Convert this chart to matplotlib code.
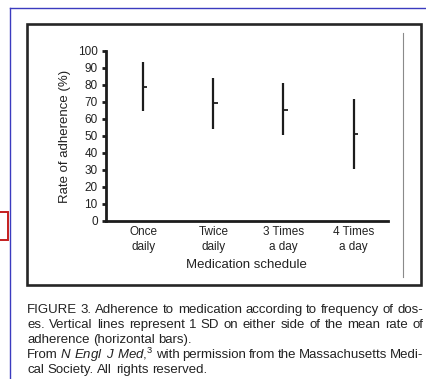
import numpy as np
import matplotlib.pyplot as plt
from matplotlib.patches import Rectangle
from matplotlib.lines import Line2D

plt.rcParams['font.family'] = ['Liberation Sans', 'DejaVu Sans']
plt.rcParams['mathtext.fontset'] = 'custom'
plt.rcParams['mathtext.rm'] = 'Liberation Sans'
plt.rcParams['mathtext.it'] = 'Liberation Sans:italic'

# data
schedules = ['Once\ndaily', 'Twice\ndaily', '3 Times\na day', '4 Times\na day']
mean_rate = [78.6, 69.2, 65.1, 50.8]
sd_upper = [93.4, 84.0, 81.2, 71.4]
sd_lower = [64.5, 53.9, 50.2, 30.6]
yticks = list(range(0, 101, 10))

caption = [
    ("FIGURE 3. Adherence to medication according to frequency of dos-", True),
    ("es. Vertical lines represent 1 SD on either side of the mean rate of", True),
    ("adherence (horizontal bars).", False),
    ("From $\\mathit{N}$ $\\mathit{Engl}$ $\\mathit{J}$ $\\mathit{Med}$,$^3$ with permission from the Massachusetts Medi-", True),
    ("cal Society. All rights reserved.", False),
]

W, H = 426, 379
fig = plt.figure(figsize=(W / 100, H / 100), dpi=100)


def fx(px):
    return px / W


def fy(py):
    return 1 - py / H


dark = '#1c1c1c'

# frame decorations of the page
fig.add_artist(Line2D([fx(10.3), fx(10.3)], [fy(8), fy(379)], color='#3b3bbf', lw=1.0))
fig.add_artist(Line2D([fx(10), fx(426)], [fy(8.3), fy(8.3)], color='#3b3bbf', lw=1.0))
fig.add_artist(Rectangle((fx(26.5), fy(285)), fx(421) - fx(26.5), (285 - 23.5) / H,
                         fill=False, ec='#262626', lw=1.9))
fig.add_artist(Line2D([fx(402.5), fx(402.5)], [fy(33), fy(277)], color='#8a8a8a', lw=0.8))
fig.add_artist(Rectangle((fx(-2), fy(240)), fx(10), 28 / H, fill=False, ec='#c41e1e', lw=1.4))

# chart
ax = fig.add_axes([fx(106), fy(220.7), (388 - 106) / W, (220.7 - 50.7) / H])
x = np.arange(len(schedules))
ax.vlines(x, sd_lower, sd_upper, color=dark, lw=1.6)
ax.hlines(mean_rate, x, x + 0.06, color=dark, lw=1.3)

ax.set_xlim(-0.53, 3.49)
ax.set_ylim(0, 100)
ax.set_yticks(yticks)
ax.set_xticks(x)
ax.set_xticklabels(schedules, linespacing=1.25)
for sp in ['top', 'right']:
    ax.spines[sp].set_visible(False)
for sp in ['left', 'bottom']:
    ax.spines[sp].set_linewidth(2)
    ax.spines[sp].set_color(dark)
ax.tick_params(axis='y', direction='out', length=3, width=2, pad=3, labelsize=8.5,
               color=dark, labelcolor='#222')
ax.tick_params(axis='x', length=0, pad=4, labelsize=8.5, labelcolor='#222')

fig.text(fx(65), fy(136), 'Rate of adherence (%)', rotation=90, ha='center', va='center',
         fontsize=9.5, color='#222')
fig.text(fx(246), fy(267.5), 'Medication schedule', ha='center', va='baseline',
         fontsize=9.5, color='#222')

# justified caption
r = fig.canvas.get_renderer()
probe1 = fig.text(0, 0, 'x x', fontsize=9.5)
probe2 = fig.text(0, 0, 'xx', fontsize=9.5)
space = probe1.get_window_extent(r).width - probe2.get_window_extent(r).width
probe1.remove()
probe2.remove()

left, right = 27, 423
base = 313
for i, (line, justify) in enumerate(caption):
    words = line.split(' ')
    texts = [fig.text(fx(left), fy(base + 15 * i), w, fontsize=9.5, va='baseline',
                      color='#222') for w in words]
    widths = [t.get_window_extent(r).width for t in texts]
    gap = (right - left - sum(widths)) / (len(words) - 1) if justify else space
    pos = left
    for t, w in zip(texts, widths):
        t.set_x(fx(pos))
        pos += w + gap

fig.savefig('out.png', dpi=100)
